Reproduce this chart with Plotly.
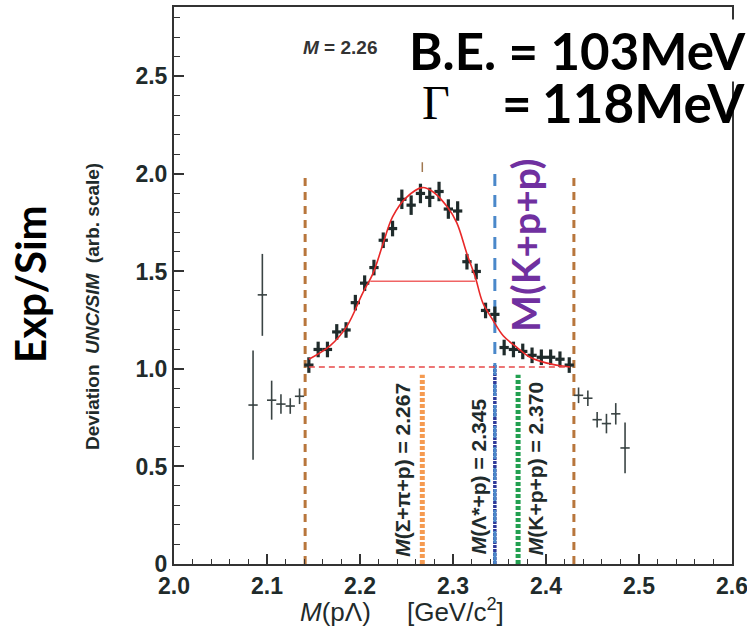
import plotly.graph_objects as go

# ---------------- data ----------------
# fitted window points (thick black crosses)
in_x = [2.145, 2.155, 2.165, 2.175, 2.185, 2.195, 2.205, 2.215, 2.225, 2.235,
        2.245, 2.255, 2.265, 2.275, 2.285, 2.295, 2.305, 2.315, 2.325, 2.335,
        2.345, 2.355, 2.365, 2.375, 2.385, 2.395, 2.405, 2.415, 2.425]
in_y = [1.02, 1.10, 1.10, 1.19, 1.20, 1.34, 1.44, 1.52, 1.66, 1.72,
        1.87, 1.84, 1.90, 1.88, 1.91, 1.82, 1.81, 1.55, 1.50, 1.30,
        1.28, 1.11, 1.10, 1.09, 1.07, 1.06, 1.06, 1.05, 1.02]
in_err = [0.04, 0.04, 0.04, 0.04, 0.04, 0.04, 0.04, 0.04, 0.04, 0.04,
          0.05, 0.05, 0.05, 0.05, 0.05, 0.05, 0.05, 0.04, 0.04, 0.04,
          0.04, 0.04, 0.04, 0.04, 0.04, 0.04, 0.04, 0.04, 0.04]

# outside window points (thin crosses)
out_x = [2.085, 2.095, 2.105, 2.115, 2.125, 2.135,
         2.435, 2.445, 2.455, 2.465, 2.475, 2.485]
out_y = [0.815, 1.38, 0.84, 0.82, 0.81, 0.86,
         0.865, 0.85, 0.74, 0.72, 0.77, 0.595]
out_err = [0.28, 0.21, 0.10, 0.05, 0.04, 0.04,
           0.04, 0.04, 0.04, 0.05, 0.055, 0.13]
x_half_bin = 0.005

# fit curve
fit_x = [2.145, 2.168, 2.186, 2.203, 2.214, 2.224, 2.235, 2.250, 2.267, 2.278,
         2.294, 2.304, 2.315, 2.324, 2.332, 2.343, 2.354, 2.369, 2.383, 2.401,
         2.418, 2.426]
fit_y = [1.05, 1.12, 1.22, 1.39, 1.49, 1.63, 1.78, 1.88, 1.93, 1.91,
         1.83, 1.75, 1.59, 1.47, 1.34, 1.25, 1.17, 1.11, 1.06, 1.03,
         1.015, 1.01]

fwhm_x = [2.211, 2.324]
fwhm_y = 1.45
baseline_x = [2.145, 2.425]
baseline_y = 1.01

window_x = [2.141, 2.430]
window_top = 2.0
peak_mark_x = 2.267

thr_names = ["<b><i>M</i>(Σ+π+p) = 2.267</b>", "<b><i>M</i>(Λ*+p) = 2.345</b>", "<b><i>M</i>(K+p+p) = 2.370</b>"]
thr_x = [2.267, 2.345, 2.370]

x_tickvals = [2.0, 2.1, 2.2, 2.3, 2.4, 2.5, 2.6]
x_ticktext = ["<b>2.0</b>", "<b>2.1</b>", "<b>2.2</b>", "<b>2.3</b>", "<b>2.4</b>", "<b>2.5</b>", "<b>2.6</b>"]
y_tickvals = [0, 0.5, 1.0, 1.5, 2.0, 2.5]
y_ticktext = ["<b>0</b>", "<b>0.5</b>", "<b>1.0</b>", "<b>1.5</b>", "<b>2.0</b>", "<b>2.5</b>"]

DARK = "#1f2b2b"
BROWN = "#B8763C"

fig = go.Figure()

# outside points
fig.add_trace(go.Scatter(
    x=out_x, y=out_y, mode="markers",
    marker=dict(size=2, color="#3a4444"),
    error_y=dict(type="data", array=out_err, color="#3a4444", thickness=1.6, width=0),
    error_x=dict(type="data", array=[x_half_bin] * len(out_x), color="#3a4444", thickness=1.6, width=0),
    showlegend=False, hoverinfo="x+y"))

# inside points
fig.add_trace(go.Scatter(
    x=in_x, y=in_y, mode="markers",
    marker=dict(size=3, color=DARK),
    error_y=dict(type="data", array=in_err, color=DARK, thickness=3.2, width=0),
    error_x=dict(type="data", array=[x_half_bin] * len(in_x), color=DARK, thickness=3.2, width=0),
    showlegend=False, hoverinfo="x+y"))

# fit curve
fig.add_trace(go.Scatter(
    x=fit_x, y=fit_y, mode="lines", line=dict(color="#E82828", width=1.6, shape="spline"),
    showlegend=False, hoverinfo="skip"))

# FWHM line
fig.add_trace(go.Scatter(
    x=fwhm_x, y=[fwhm_y, fwhm_y], mode="lines", line=dict(color="#F06464", width=1.6),
    showlegend=False, hoverinfo="skip"))

# baseline dashed
fig.add_trace(go.Scatter(
    x=baseline_x, y=[baseline_y, baseline_y], mode="lines",
    line=dict(color="#E84848", width=1.4, dash="6px,4px"),
    showlegend=False, hoverinfo="skip"))

shapes = []
for wx in window_x:
    shapes.append(dict(type="line", xref="x", yref="y", x0=wx, x1=wx, y0=0, y1=window_top,
                       line=dict(color=BROWN, width=3, dash="8px,6px"), layer="below"))
# peak marker
shapes.append(dict(type="line", xref="x", yref="y", x0=peak_mark_x, x1=peak_mark_x, y0=2.01, y1=2.06,
                   line=dict(color="#A07850", width=1.5), layer="below"))
# orange threshold
shapes.append(dict(type="line", xref="x", yref="y", x0=thr_x[0], x1=thr_x[0], y0=0, y1=0.97,
                   line=dict(color="#F59A50", width=5, dash="4px,2px"), layer="below"))
# navy + blue at 2.345
shapes.append(dict(type="line", xref="x", yref="y", x0=thr_x[1], x1=thr_x[1], y0=0, y1=1.02,
                   line=dict(color="#2E3A9A", width=3.5, dash="3px,1px"), layer="below"))
shapes.append(dict(type="line", xref="x", yref="y", x0=thr_x[1], x1=thr_x[1], y0=0, y1=2.02,
                   line=dict(color="#4A88CA", width=3, dash="12px,9px"), layer="below"))
# green threshold
shapes.append(dict(type="line", xref="x", yref="y", x0=thr_x[2], x1=thr_x[2], y0=0, y1=0.97,
                   line=dict(color="#22A050", width=5, dash="4px,2px"), layer="below"))

annotations = []
label_pos = [(2.245, 0.482), (2.327, 0.451), (2.389, 0.49)]
for name, (lx, ly) in zip(thr_names, label_pos):
    annotations.append(dict(x=lx, y=ly, xref="x", yref="y", text=name, showarrow=False,
                            textangle=-90, xanchor="center", yanchor="middle",
                            font=dict(family="Liberation Sans", size=21, color=DARK)))

def px_x(p):
    return (p - 174) / 558.0

def px_y(p):
    return (564 - p) / 557.0

annotations.append(dict(x=px_x(340), y=px_y(47), xref="paper", yref="paper",
                        text="<b><i>M</i> = 2.26</b>", showarrow=False,
                        xanchor="center", yanchor="middle",
                        font=dict(family="Liberation Sans", size=19, color="#333")))
annotations.append(dict(x=px_x(747), y=px_y(50), xref="paper", yref="paper", text="<b>B.E. = 103MeV</b>",
                        showarrow=False, xanchor="right", yanchor="middle",
                        bgcolor="white", borderpad=0,
                        font=dict(family="Lato", size=51, color="black")))
annotations.append(dict(x=px_x(420), y=px_y(103), xref="paper", yref="paper", text="Γ", showarrow=False,
                        xanchor="left", yanchor="middle",
                        font=dict(family="Liberation Serif", size=48, color="black")))
annotations.append(dict(x=px_x(500), y=px_y(103), xref="paper", yref="paper", text="<b>=</b>", showarrow=False,
                        xanchor="left", yanchor="middle",
                        font=dict(family="Lato", size=51, color="black")))
annotations.append(dict(x=px_x(747), y=px_y(103), xref="paper", yref="paper", text="<b>118MeV</b>",
                        showarrow=False, xanchor="right", yanchor="middle", borderpad=0,
                        font=dict(family="Lato", size=53, color="black")))
annotations.append(dict(x=2.3774, y=1.636, xref="x", yref="y", text="<b>M(K+p+p)</b>", showarrow=False,
                        textangle=-90, xanchor="center", yanchor="middle",
                        font=dict(family="Lato", size=39, color="#7030A0")))
annotations.append(dict(x=px_x(30), y=px_y(284), xref="paper", yref="paper", text="<b>Exp/Sim</b>",
                        showarrow=False, textangle=-90, xanchor="center", yanchor="middle",
                        font=dict(family="Lato", size=42, color="black")))
annotations.append(dict(x=px_x(92), y=px_y(307), xref="paper", yref="paper",
                        text="<b>Deviation  <i>UNC/SIM</i>  (arb. scale)</b>", showarrow=False,
                        textangle=-90, xanchor="center", yanchor="middle",
                        font=dict(family="Liberation Sans", size=19, color=DARK)))
annotations.append(dict(x=px_x(402), y=px_y(610), xref="paper", yref="paper",
                        text="<i>M</i>(pΛ)     [GeV/c<sup>2</sup>]", showarrow=False,
                        xanchor="center", yanchor="middle",
                        font=dict(family="Liberation Sans", size=26, color=DARK)))

fig.update_layout(
    width=747, height=640,
    margin=dict(l=174, r=15, t=7, b=76, autoexpand=False),
    paper_bgcolor="white", plot_bgcolor="white",
    shapes=shapes, annotations=annotations,
    showlegend=False,
)
fig.update_xaxes(range=[2.0, 2.6], tickvals=x_tickvals, ticktext=x_ticktext,
                 ticks="inside", ticklen=10, tickwidth=1.5, tickcolor="#333",
                 minor=dict(dtick=0.02, ticks="inside", ticklen=5, tickwidth=1.2, tickcolor="#333"),
                 showline=True, linecolor="#333", linewidth=2, mirror=True,
                 showgrid=False, zeroline=False, ticklabeloverflow="allow",
                 tickfont=dict(family="Liberation Sans", size=23, color=DARK))
fig.update_yaxes(range=[0, 2.856], tickvals=y_tickvals, ticktext=y_ticktext,
                 ticks="inside", ticklen=10, tickwidth=1.5, tickcolor="#333",
                 minor=dict(dtick=0.1, ticks="inside", ticklen=6, tickwidth=1.2, tickcolor="#333"),
                 showline=True, linecolor="#333", linewidth=2, mirror=True,
                 showgrid=False, zeroline=False,
                 tickfont=dict(family="Liberation Sans", size=23, color=DARK))

fig.write_html("out.html")
